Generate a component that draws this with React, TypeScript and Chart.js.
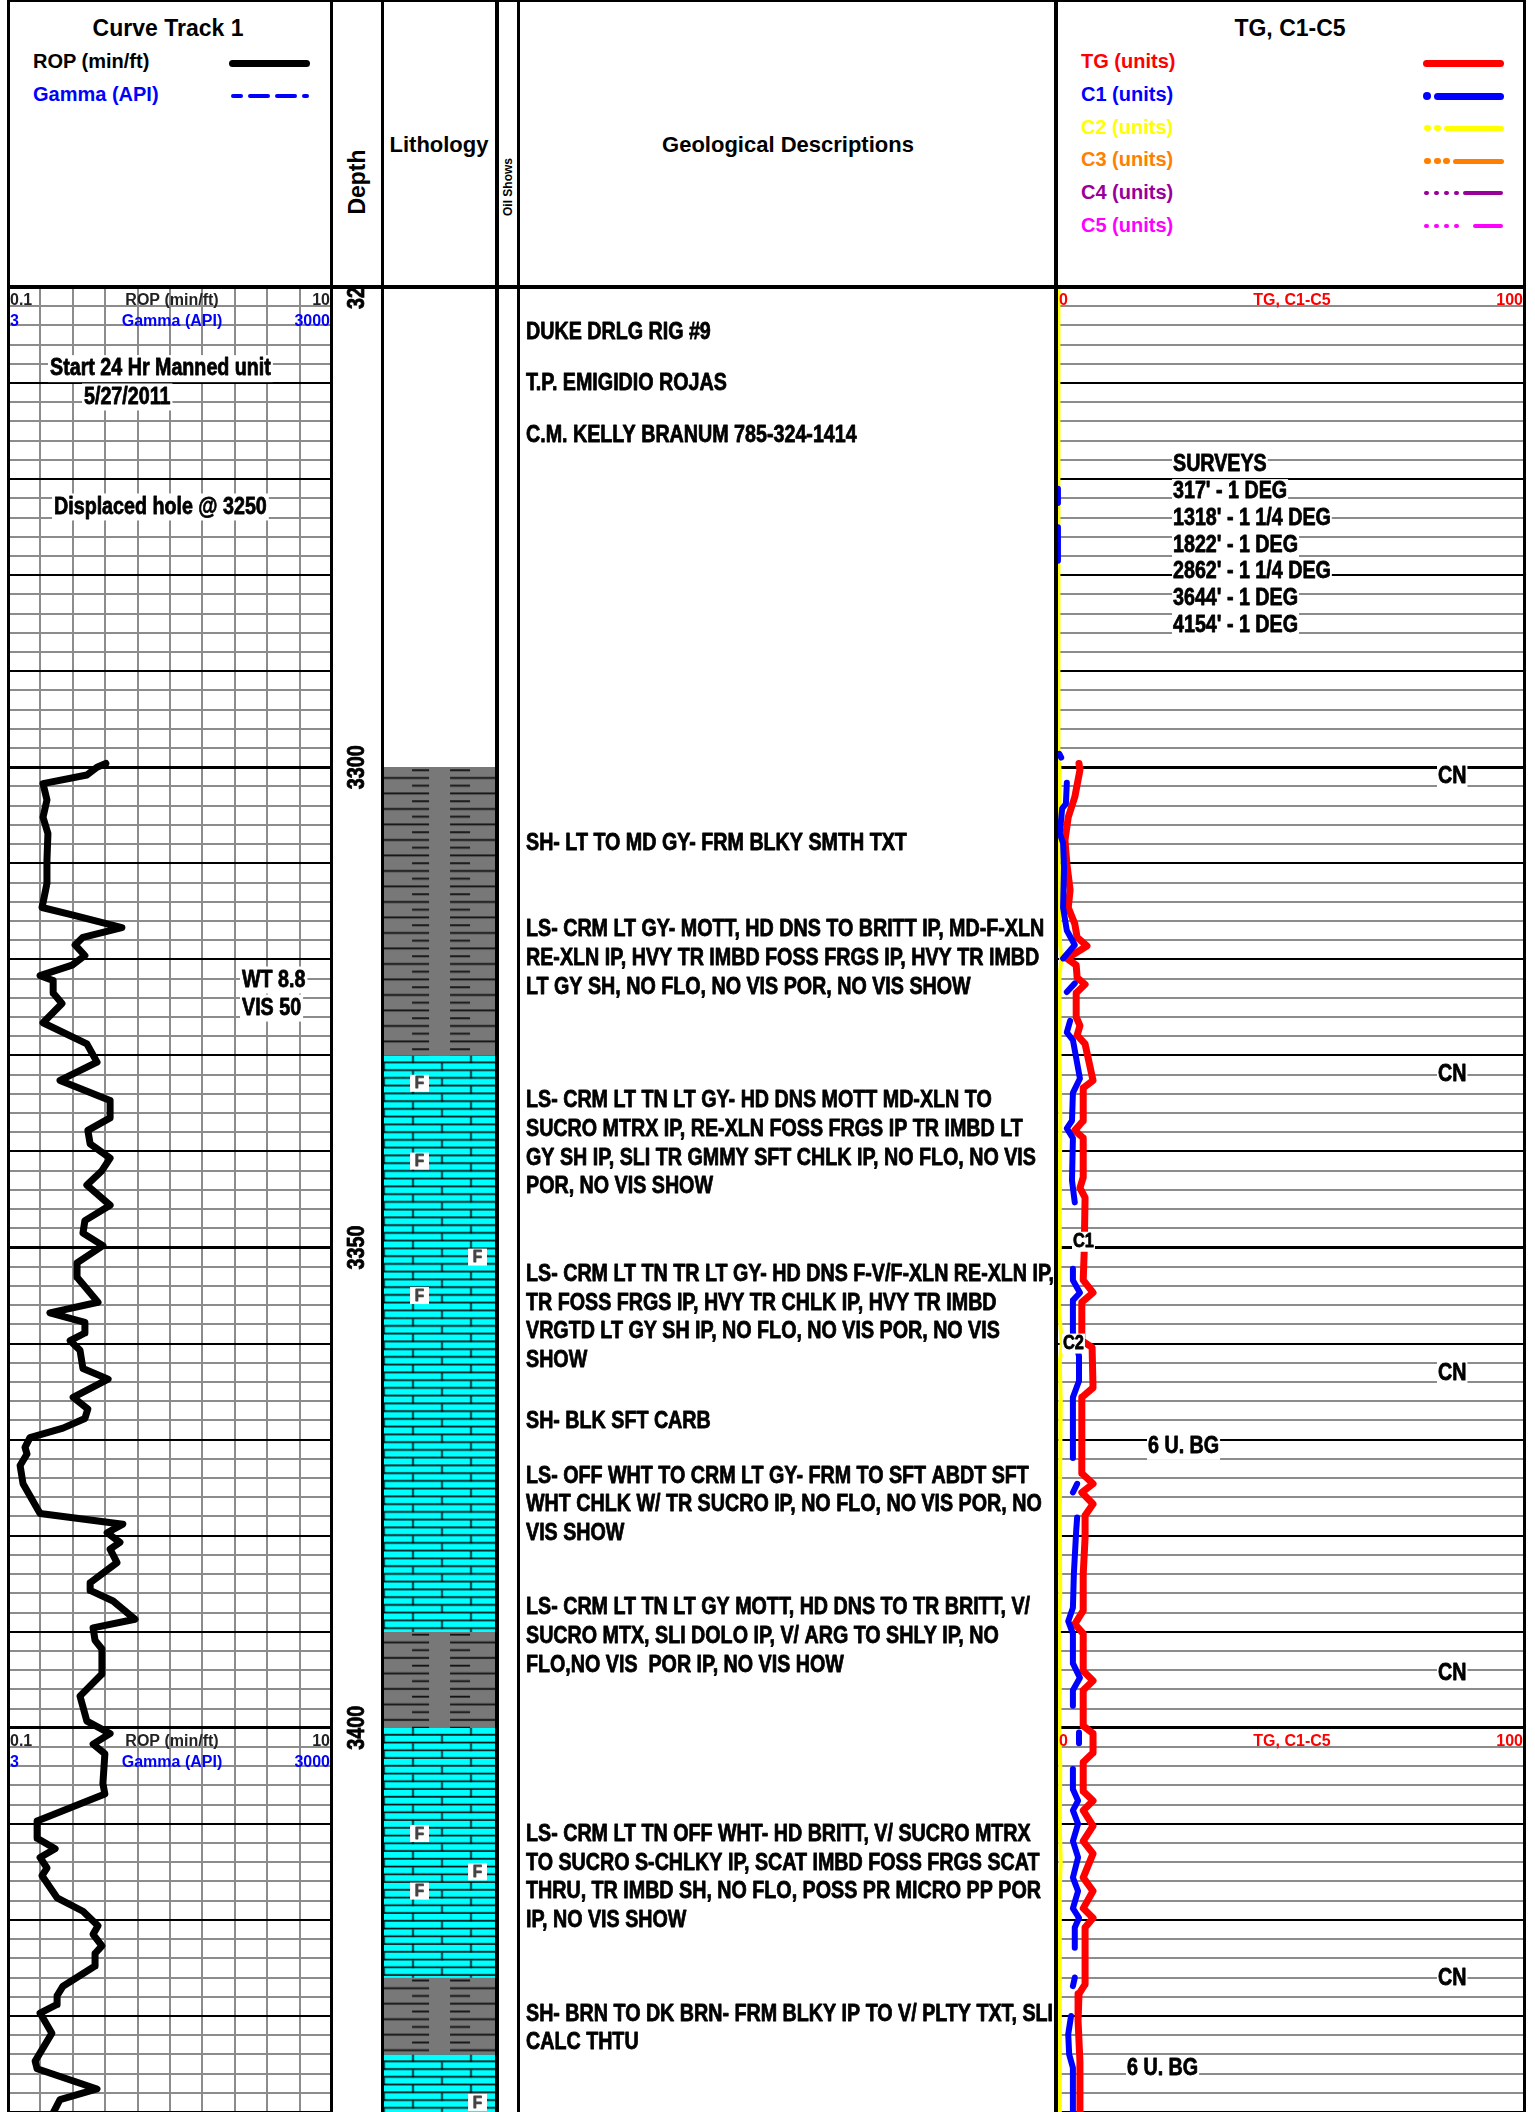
import React, { useEffect, useRef } from "react";
import { Chart, registerables } from "chart.js";

Chart.register(...registerables);

// ------------------------------------------------------------------ data
const TOP_DEPTH = 3250;
const BASE_DEPTH = 3440;
const depthLabels = [3250, 3300, 3350, 3400];
const scaleHeaderDepths = [3250, 3400];
const ropGridTicks = [0.1, 1.09, 2.08, 3.07, 4.06, 5.05, 6.04, 7.03, 8.02, 9.01, 10];

const ropDepths = [
  3299.6, 3300.0, 3300.8, 3301.7, 3303.4, 3305.2, 3306.9, 3309.7, 3312.1, 3314.6,
  3315.4, 3316.7, 3317.7, 3318.5, 3319.6, 3320.6, 3321.7, 3322.2, 3323.5, 3324.6,
  3326.6, 3328.8, 3330.7, 3332.6, 3334.7, 3336.5, 3337.8, 3339.2, 3340.7, 3342.0,
  3343.5, 3345.6, 3347.2, 3348.5, 3349.8, 3351.6, 3353.1, 3355.7, 3356.8, 3357.8,
  3358.9, 3359.7, 3360.7, 3362.6, 3363.7, 3365.6, 3366.8, 3367.8, 3368.8, 3369.8,
  3370.8, 3371.5, 3372.7, 3374.6, 3377.7, 3378.8, 3379.7, 3380.7, 3381.4, 3382.8,
  3384.9, 3385.7, 3386.8, 3388.7, 3389.6, 3390.9, 3391.8, 3394.4, 3396.7, 3399.3,
  3400.6, 3401.7, 3402.7, 3405.8, 3406.9, 3409.7, 3411.5, 3412.6, 3413.5, 3414.6,
  3415.4, 3417.7, 3419.1, 3420.6, 3421.5, 3422.7, 3423.5, 3424.8, 3426.9, 3427.9,
  3428.8, 3429.7, 3431.8, 3434.7, 3435.5, 3437.6, 3438.7, 3440.1,
];
const ropValues = [
  3.09, 2.82, 2.51, 1.17, 1.29, 1.17, 1.32, 1.29, 1.29, 1.14,
  2.09, 3.58, 2.39, 2.15, 2.45, 2.06, 1.08, 1.48, 1.48, 1.75,
  1.17, 2.51, 2.82, 1.69, 3.22, 3.22, 2.54, 2.61, 3.22, 2.97,
  2.51, 3.22, 2.45, 2.39, 3.0, 2.21, 2.21, 2.85, 1.38, 2.45,
  2.45, 2.0, 2.3, 2.39, 3.16, 2.09, 2.54, 2.45, 1.78, 0.77,
  0.62, 0.68, 0.47, 0.56, 1.08, 3.61, 3.13, 3.52, 3.22, 3.43,
  2.61, 2.61, 3.31, 3.98, 2.7, 2.76, 2.97, 2.97, 2.3, 2.51,
  3.22, 2.7, 3.06, 3.0, 3.06, 0.99, 0.99, 1.54, 1.08, 1.29,
  1.14, 1.6, 2.39, 2.85, 2.7, 2.97, 2.76, 2.76, 1.78, 1.6,
  1.6, 1.08, 1.44, 0.93, 0.99, 2.82, 1.69, 1.48,
];

const tgDepths = [
  3299.6, 3300.3, 3303.1, 3305.2, 3307.6, 3310.0, 3312.8, 3314.6, 3316.3, 3317.7,
  3318.6, 3319.9, 3320.6, 3321.9, 3322.6, 3323.5, 3326.0, 3326.9, 3327.9, 3328.8,
  3332.6, 3333.4, 3336.8, 3337.8, 3338.6, 3342.7, 3343.8, 3344.8, 3350.6, 3353.4,
  3354.7, 3355.7, 3359.7, 3360.4, 3364.6, 3365.6, 3373.5, 3374.6, 3375.5, 3376.7,
  3377.9, 3380.2, 3384.0, 3387.8, 3389.2, 3390.2, 3394.1, 3395.1, 3396.1, 3399.8,
  3400.6, 3402.6, 3403.6, 3406.6, 3407.6, 3408.6, 3410.2, 3411.8, 3413.1, 3415.6,
  3417.0, 3418.8, 3419.8, 3420.8, 3426.7, 3427.7, 3430.5, 3434.7, 3440.1,
];
const tgValues = [
  4.7, 4.9, 3.8, 2.4, 1.7, 2.1, 2.8, 2.4, 3.8, 4.3,
  6.4, 2.1, 4.1, 4.3, 6.0, 4.1, 4.1, 4.9, 4.3, 6.0,
  7.7, 5.6, 5.6, 3.8, 5.6, 5.6, 4.9, 6.0, 5.8, 5.6,
  7.7, 5.3, 5.3, 7.5, 7.7, 5.3, 5.3, 7.7, 5.3, 7.7,
  6.0, 6.0, 5.6, 5.6, 3.8, 5.6, 5.6, 7.7, 5.6, 5.6,
  7.7, 7.7, 5.6, 5.6, 7.7, 5.6, 7.7, 5.6, 7.7, 5.6,
  7.7, 5.6, 7.7, 6.0, 6.0, 4.7, 4.5, 4.9, 4.9,
];

const c1Depths = [
  3271.0, 3272.5, 3273.0, 3275.0, 3278.5, 3279.0, 3298.6, 3299.0, 3299.5,
  3301.6, 3303.8, 3304.3, 3306.9, 3307.9, 3310.4, 3314.6, 3317.0, 3318.5, 3319.9, 3321.0,
  3322.5, 3323.4, 3324.5,
  3326.4, 3327.6, 3328.4, 3332.4, 3333.9, 3336.8, 3337.6, 3338.6, 3343.0, 3345.3, 3346.5,
  3352.2, 3353.4, 3354.7, 3355.5, 3358.9, 3361.3, 3363.9, 3365.6, 3371.9, 3373.0,
  3374.6, 3375.5, 3376.5,
  3378.1, 3379.5, 3384.0, 3387.5, 3388.9, 3390.2, 3393.3, 3394.8, 3396.1, 3397.7, 3399.0,
  3400.5, 3401.6, 3402.5,
  3404.3, 3406.4, 3407.6, 3408.6, 3410.0, 3411.8, 3413.5, 3415.6, 3417.0, 3418.8, 3419.8, 3420.8, 3422.9, 3424.5,
  3426.0, 3426.9, 3428.5,
  3430.0, 3431.9, 3434.0, 3435.4, 3440.1,
];
const c1Values = [
  0.2, 0.2, null, 0.2, 0.2, null, 0.5, 0.9, null,
  2.1, 1.9, 1.1, 0.6, 1.3, 1.5, 1.3, 2.1, 3.8, 1.3, null,
  3.8, 2.1, null,
  2.8, 2.1, 3.4, 4.9, 3.4, 3.2, 2.1, 3.4, 3.2, 3.8, null,
  3.4, 3.4, 4.9, 3.4, 3.4, 4.7, 4.7, 3.4, 3.4, null,
  4.3, 3.4, null,
  4.3, 4.1, 3.6, 3.4, 2.4, 3.4, 3.4, 4.9, 3.4, 3.4, null,
  4.7, 4.7, null,
  3.4, 3.4, 4.5, 3.4, 4.5, 3.4, 4.5, 3.4, 4.5, 3.4, 4.7, 3.8, 3.8, null,
  3.8, 3.4, null,
  3.0, 2.4, 2.6, 3.4, 3.4,
];

const c2Depths = [
  3250, 3299, 3300.5, 3304, 3306, 3312, 3318, 3320, 3322, 3324, 3330, 3336, 3345, 3350,
  3356, 3358, 3360, 3362, 3366, 3372, 3378, 3386, 3390, 3396, 3400, 3404, 3410, 3414,
  3418, 3426, 3434, 3440,
];
const c2Values = [
  0.3, 0.3, 0.6, 0.5, 0.3, 0.4, 0.6, 0.9, 0.5, 0.6, 0.5, 0.7, 0.6, 0.6,
  0.4, 0.7, 1.0, 0.6, 0.8, 0.7, 0.6, 0.7, 0.4, 0.6, 0.5, 0.7, 0.6, 0.8,
  0.5, 0.6, 0.6, 0.6,
];

const lithTops = [3300, 3330, 3390, 3400, 3426, 3434];
const lithBases = [3330, 3390, 3400, 3426, 3434, 3440];
const lithTypes = ["SH", "LS", "SH", "LS", "SH", "LS"];
const fossilDepths = [3332.9, 3341.0, 3351.0, 3355.0, 3411.0, 3415.0, 3417.0, 3439.0];
const fossilSlots = [0, 0, 1, 0, 0, 1, 0, 1];

const descDepths = [3254.7, 3260.0, 3265.4, 3307.9, 3316.9, 3334.7, 3352.8, 3368.1, 3373.8, 3387.5, 3411.1, 3429.8];
const descTexts = [
  "DUKE DRLG RIG #9",
  "T.P. EMIGIDIO ROJAS",
  "C.M. KELLY BRANUM 785-324-1414",
  "SH- LT TO MD GY- FRM BLKY SMTH TXT",
  "LS- CRM LT GY- MOTT, HD DNS TO BRITT IP, MD-F-XLN\nRE-XLN IP, HVY TR IMBD FOSS FRGS IP, HVY TR IMBD\nLT GY SH, NO FLO, NO VIS POR, NO VIS SHOW",
  "LS- CRM LT TN LT GY- HD DNS MOTT MD-XLN TO\nSUCRO MTRX IP, RE-XLN FOSS FRGS IP TR IMBD LT\nGY SH IP, SLI TR GMMY SFT CHLK IP, NO FLO, NO VIS\nPOR, NO VIS SHOW",
  "LS- CRM LT TN TR LT GY- HD DNS F-V/F-XLN RE-XLN IP,\nTR FOSS FRGS IP, HVY TR CHLK IP, HVY TR IMBD\nVRGTD LT GY SH IP, NO FLO, NO VIS POR, NO VIS\nSHOW",
  "SH- BLK SFT CARB",
  "LS- OFF WHT TO CRM LT GY- FRM TO SFT ABDT SFT\nWHT CHLK W/ TR SUCRO IP, NO FLO, NO VIS POR, NO\nVIS SHOW",
  "LS- CRM LT TN LT GY MOTT, HD DNS TO TR BRITT, V/\nSUCRO MTX, SLI DOLO IP, V/ ARG TO SHLY IP, NO\nFLO,NO VIS  POR IP, NO VIS HOW",
  "LS- CRM LT TN OFF WHT- HD BRITT, V/ SUCRO MTRX\nTO SUCRO S-CHLKY IP, SCAT IMBD FOSS FRGS SCAT\nTHRU, TR IMBD SH, NO FLO, POSS PR MICRO PP POR\nIP, NO VIS SHOW",
  "SH- BRN TO DK BRN- FRM BLKY IP TO V/ PLTY TXT, SLI\nCALC THTU",
];

const ropNoteTexts = ["Start 24 Hr Manned unit", "5/27/2011", "Displaced hole @ 3250", "WT 8.8", "VIS 50"];
const ropNoteDepths = [3258.5, 3261.45, 3272.9, 3322.15, 3325.07];
const gasNoteTexts = [
  "SURVEYS", "317' - 1 DEG", "1318' - 1 1/4 DEG", "1822' - 1 DEG", "2862' - 1 1/4 DEG",
  "3644' - 1 DEG", "4154' - 1 DEG",
];
const gasNoteDepths = [3268.45, 3271.3, 3274.05, 3276.85, 3279.65, 3282.4, 3285.2];
const cnDepths = [3301.0, 3332.0, 3363.1, 3394.3, 3426.1];
const bgNoteDepths = [3370.7, 3435.5];
const compLabelTexts = ["C1", "C2"];
const compLabelDepths = [3349.4, 3360.0];

// ------------------------------------------------------------------ styling helpers
const FONT = '"Liberation Sans", Arial, Helvetica, sans-serif';
const NARROW = 0.82;

type TextOpts = {
  size?: number;
  sx?: number;
  align?: "left" | "center" | "right";
  color?: string;
  bg?: string;
  boxH?: number;
  pad?: number;
};

function drawText(ctx: CanvasRenderingContext2D, text: string, x: number, y: number, o: TextOpts = {}) {
  const size = o.size ?? 24;
  const sx = o.sx ?? NARROW;
  const align = o.align ?? "left";
  ctx.save();
  ctx.font = `bold ${size}px ${FONT}`;
  const w = ctx.measureText(text).width * sx;
  const left = align === "left" ? x : align === "center" ? x - w / 2 : x - w;
  if (o.bg) {
    const h = o.boxH ?? size + 2;
    const p = o.pad ?? 2;
    ctx.fillStyle = o.bg;
    ctx.fillRect(left - p, y - h / 2, w + 2 * p, h);
  }
  ctx.translate(left, y);
  ctx.scale(sx, 1);
  const color = o.color ?? "#000";
  ctx.fillStyle = color;
  ctx.textAlign = "left";
  ctx.textBaseline = "middle";
  ctx.fillText(text, 0, 0);
  if (sx < 1) {
    // narrow bold faces have heavier stems than a squeezed regular bold
    ctx.strokeStyle = color;
    ctx.lineWidth = 0.8;
    ctx.lineJoin = "round";
    ctx.strokeText(text, 0, 0);
  }
  ctx.restore();
}

const gridColor = (c: any) => {
  const v = c.tick ? c.tick.value : 0;
  return Math.round(v) % 10 === 0 ? "#000000" : "#8c8c8c";
};
const gridWidth = (c: any) => {
  const v = c.tick ? c.tick.value : 0;
  return Math.round(v) % 50 === 0 ? 3 : 2;
};

function depthScale(showGrid: boolean): any {
  return {
    type: "linear",
    min: TOP_DEPTH,
    max: BASE_DEPTH,
    reverse: true,
    display: showGrid,
    ticks: { display: false, stepSize: 2 },
    grid: { display: showGrid, drawTicks: false, color: gridColor, lineWidth: gridWidth },
    border: { display: false },
  };
}

function baseOptions(extra: any): any {
  return {
    animation: false,
    responsive: false,
    events: [],
    layout: { padding: 0 },
    plugins: { legend: { display: false }, tooltip: { enabled: false }, title: { display: false } },
    ...extra,
  };
}

function curve(depths: number[], values: (number | null)[], color: string, width: number) {
  return {
    data: depths.map((d, i) => ({ x: values[i], y: d })),
    borderColor: color,
    backgroundColor: color,
    borderWidth: width,
    pointRadius: 0,
    tension: 0,
    spanGaps: false,
    borderCapStyle: "round",
    borderJoinStyle: "round",
    fill: false,
  };
}

function makeLimestoneTile(): HTMLCanvasElement {
  const c = document.createElement("canvas");
  c.width = 58;
  c.height = 31;
  const g = c.getContext("2d")!;
  g.fillStyle = "#00ffff";
  g.fillRect(0, 0, 58, 31);
  g.fillStyle = "#000";
  const rh = 31 / 4;
  for (let r = 0; r < 4; r++) {
    const y0 = r * rh;
    g.fillRect(0, y0 + rh - 1.6, 58, 1.6);
    const jx = r % 2 === 0 ? 14.5 : 43.5;
    g.fillRect(jx - 0.75, y0, 1.5, rh);
  }
  return c;
}

function makeShaleTile(): HTMLCanvasElement {
  const c = document.createElement("canvas");
  c.width = 111;
  c.height = 31;
  const g = c.getContext("2d")!;
  g.fillStyle = "#787878";
  g.fillRect(0, 0, 111, 31);
  g.fillStyle = "#111";
  const rh = 31 / 4;
  for (let r = 0; r < 4; r++) {
    const y = r * rh + 2;
    if (r % 2 === 0) {
      g.fillRect(28, y, 17, 1.8);
      g.fillRect(66, y, 20, 1.8);
    } else {
      g.fillRect(0, y, 45, 1.8);
      g.fillRect(66, y, 45, 1.8);
    }
  }
  return c;
}

// ------------------------------------------------------------------ plugins
const ropOverlay = {
  id: "ropOverlay",
  afterDatasetsDraw(chart: any) {
    const { ctx } = chart;
    const y = chart.scales.y;
    scaleHeaderDepths.forEach((d) => {
      const py = y.getPixelForValue(d);
      drawText(ctx, "0.1", 2, py + 14, { size: 16, sx: 1, color: "#222" });
      drawText(ctx, "ROP (min/ft)", 164, py + 14, { size: 16, sx: 1, color: "#222", align: "center" });
      drawText(ctx, "10", 322, py + 14, { size: 16, sx: 1, color: "#222", align: "right" });
      drawText(ctx, "3", 2, py + 35, { size: 16, sx: 1, color: "#0000ff" });
      drawText(ctx, "Gamma (API)", 164, py + 35, { size: 16, sx: 1, color: "#0000ff", align: "center" });
      drawText(ctx, "3000", 322, py + 35, { size: 16, sx: 1, color: "#0000ff", align: "right" });
    });
    const noteX = [42, 76, 46, 234, 234];
    ropNoteTexts.forEach((t, i) => {
      drawText(ctx, t, noteX[i], y.getPixelForValue(ropNoteDepths[i]), { bg: "#fff", boxH: 27 });
    });
  },
};

const gasOverlay = {
  id: "gasOverlay",
  afterDatasetsDraw(chart: any) {
    const { ctx } = chart;
    const y = chart.scales.y;
    scaleHeaderDepths.forEach((d) => {
      const py = y.getPixelForValue(d);
      drawText(ctx, "0", 2, py + 14, { size: 16, sx: 1, color: "#ff0000" });
      drawText(ctx, "TG, C1-C5", 235, py + 14, { size: 16, sx: 1, color: "#ff0000", align: "center" });
      drawText(ctx, "100", 466, py + 14, { size: 16, sx: 1, color: "#ff0000", align: "right" });
    });
    gasNoteTexts.forEach((t, i) => {
      drawText(ctx, t, 116, y.getPixelForValue(gasNoteDepths[i]), { bg: "#fff", boxH: 25, pad: 1 });
    });
    cnDepths.forEach((d) => drawText(ctx, "CN", 381, y.getPixelForValue(d), { bg: "#fff", boxH: 27, pad: 1 }));
    const bgX = [91, 70];
    bgNoteDepths.forEach((d, i) => drawText(ctx, "6 U. BG", bgX[i], y.getPixelForValue(d), { bg: "#fff", boxH: 27, pad: 1 }));
    const compX = [16, 6];
    compLabelTexts.forEach((t, i) =>
      drawText(ctx, t, compX[i], y.getPixelForValue(compLabelDepths[i]), { size: 20, bg: "#fff", boxH: 20, pad: 1 })
    );
  },
};

const depthOverlay = {
  id: "depthOverlay",
  afterDraw(chart: any) {
    const { ctx } = chart;
    const y = chart.scales.y;
    const cx = chart.width / 2 + 0.5;
    depthLabels.forEach((d) => {
      ctx.save();
      ctx.translate(cx, y.getPixelForValue(d));
      ctx.rotate(-Math.PI / 2);
      ctx.scale(NARROW, 1);
      ctx.font = `bold 24px ${FONT}`;
      ctx.fillStyle = "#000";
      ctx.strokeStyle = "#000";
      ctx.lineWidth = 0.8;
      ctx.textAlign = "center";
      ctx.textBaseline = "middle";
      ctx.fillText(String(d), 0, 0);
      ctx.strokeText(String(d), 0, 0);
      ctx.restore();
    });
  },
};

const descOverlay = {
  id: "descOverlay",
  afterDraw(chart: any) {
    const { ctx } = chart;
    const y = chart.scales.y;
    descTexts.forEach((t, i) => {
      const y0 = y.getPixelForValue(descDepths[i]);
      t.split("\n").forEach((line, k) => drawText(ctx, line, 6, y0 + k * 28.7, { size: 24 }));
    });
  },
};

const lithPatternAlign = {
  id: "lithPatternAlign",
  beforeDatasetsDraw(chart: any) {
    const y = chart.scales.y;
    chart.data.datasets.forEach((ds: any, i: number) => {
      const pat = ds.backgroundColor as CanvasPattern;
      const top = y.getPixelForValue(lithTops[i]);
      const xOff = lithTypes[i] === "LS" ? 14.5 : 0;
      if (pat && (pat as any).setTransform) pat.setTransform(new DOMMatrix([1, 0, 0, 1, xOff, top]));
    });
  },
  afterDatasetsDraw(chart: any) {
    const { ctx } = chart;
    const y = chart.scales.y;
    const slotX = [26, 84];
    fossilDepths.forEach((d, i) => {
      const py = y.getPixelForValue(d);
      const x = slotX[fossilSlots[i]];
      ctx.fillStyle = "#ffffff";
      ctx.fillRect(x, py - 8.5, 19, 17);
      drawText(ctx, "F", x + 9.5, py + 0.5, { size: 17, sx: 0.9, color: "#444", align: "center" });
    });
  },
};

// ------------------------------------------------------------------ header pieces
const abs = (s: React.CSSProperties): React.CSSProperties => ({ position: "absolute", ...s });

function CText(props: { cx: number; cy: number; size: number; color?: string; rotate?: boolean; children: React.ReactNode }) {
  return (
    <div
      style={abs({
        left: props.cx,
        top: props.cy,
        transform: `translate(-50%, -50%)${props.rotate ? " rotate(-90deg)" : ""}`,
        font: `bold ${props.size}px ${FONT}`,
        lineHeight: 1,
        whiteSpace: "nowrap",
        color: props.color ?? "#000",
      })}
    >
      {props.children}
    </div>
  );
}

function LText(props: { x: number; cy: number; size: number; color: string; children: React.ReactNode }) {
  return (
    <div
      style={abs({
        left: props.x,
        top: props.cy,
        transform: "translateY(-50%)",
        font: `bold ${props.size}px ${FONT}`,
        lineHeight: 1,
        whiteSpace: "nowrap",
        color: props.color,
      })}
    >
      {props.children}
    </div>
  );
}

function Seg(props: { x1: number; x2: number; cy: number; h: number; color: string }) {
  return (
    <div
      style={abs({
        left: props.x1,
        top: props.cy - props.h / 2,
        width: props.x2 - props.x1,
        height: props.h,
        background: props.color,
        borderRadius: props.h / 2,
      })}
    />
  );
}

const legendNames = ["TG (units)", "C1 (units)", "C2 (units)", "C3 (units)", "C4 (units)", "C5 (units)"];
const legendColors = ["#ff0000", "#0000ff", "#ffff00", "#ff8000", "#990099", "#ff00ff"];

export default function App() {
  const ropRef = useRef<HTMLCanvasElement>(null);
  const depthRef = useRef<HTMLCanvasElement>(null);
  const lithRef = useRef<HTMLCanvasElement>(null);
  const descRef = useRef<HTMLCanvasElement>(null);
  const gasRef = useRef<HTMLCanvasElement>(null);

  useEffect(() => {
    const charts: Chart[] = [];

    charts.push(
      new Chart(ropRef.current!, {
        type: "line",
        data: { datasets: [curve(ropDepths, ropValues, "#000000", 7) as any] },
        options: baseOptions({
          indexAxis: "y",
          scales: {
            x: {
              type: "linear",
              min: 0.1,
              max: 10,
              ticks: { display: false },
              grid: { drawTicks: false, color: "#8c8c8c", lineWidth: 2 },
              border: { display: false },
              afterBuildTicks: (s: any) => {
                s.ticks = ropGridTicks.map((v) => ({ value: v }));
              },
            },
            y: depthScale(true),
          },
        }),
        plugins: [ropOverlay],
      } as any)
    );

    charts.push(
      new Chart(depthRef.current!, {
        type: "scatter",
        data: { datasets: [] },
        options: baseOptions({
          scales: { x: { type: "linear", min: 0, max: 1, display: false }, y: depthScale(false) },
        }),
        plugins: [depthOverlay],
      } as any)
    );

    const lsTile = makeLimestoneTile();
    const shTile = makeShaleTile();
    const lctx = lithRef.current!.getContext("2d")!;
    charts.push(
      new Chart(lithRef.current!, {
        type: "bar",
        data: {
          labels: ["Lithology"],
          datasets: lithTops.map((top, i) => ({
            data: [[top, lithBases[i]]],
            backgroundColor: lctx.createPattern(lithTypes[i] === "LS" ? lsTile : shTile, "repeat"),
            borderWidth: 0,
            barPercentage: 1,
            categoryPercentage: 1,
            grouped: false,
          })),
        },
        options: baseOptions({
          scales: { x: { display: false }, y: depthScale(false) },
        }),
        plugins: [lithPatternAlign],
      } as any)
    );

    charts.push(
      new Chart(descRef.current!, {
        type: "scatter",
        data: { datasets: [] },
        options: baseOptions({
          scales: { x: { type: "linear", min: 0, max: 1, display: false }, y: depthScale(false) },
        }),
        plugins: [descOverlay],
      } as any)
    );

    charts.push(
      new Chart(gasRef.current!, {
        type: "line",
        data: {
          datasets: [
            curve(c1Depths, c1Values, "#0000ff", 6) as any,
            curve(tgDepths, tgValues, "#ff0000", 7) as any,
            curve(c2Depths, c2Values, "#ffff00", 4) as any,
          ],
        },
        options: baseOptions({
          indexAxis: "y",
          scales: {
            x: { type: "linear", min: 0, max: 100, display: false },
            y: depthScale(true),
          },
        }),
        plugins: [gasOverlay],
      } as any)
    );

    return () => charts.forEach((c) => c.destroy());
  }, []);

  const vLines = [
    { x: 7, w: 3 },
    { x: 330, w: 3 },
    { x: 381, w: 3 },
    { x: 495, w: 4 },
    { x: 517, w: 3 },
    { x: 1054, w: 4 },
    { x: 1523, w: 3 },
  ];

  return (
    <div style={abs({ left: 0, top: 0, width: 1535, height: 2112, background: "#fff", overflow: "hidden" })}>
      <canvas ref={ropRef} width={324} height={1825} style={abs({ left: 8, top: 287 })} />
      <canvas ref={depthRef} width={48} height={1825} style={abs({ left: 333, top: 287 })} />
      <canvas ref={lithRef} width={111} height={1825} style={abs({ left: 384, top: 287 })} />
      <canvas ref={descRef} width={534} height={1825} style={abs({ left: 520, top: 287 })} />
      <canvas ref={gasRef} width={468} height={1825} style={abs({ left: 1057, top: 287 })} />

      {vLines.map((l, i) => (
        <div key={i} style={abs({ left: l.x, top: 0, width: l.w, height: 2112, background: "#000" })} />
      ))}
      <div style={abs({ left: 7, top: 0, width: 1519, height: 2, background: "#000" })} />
      <div style={abs({ left: 7, top: 285, width: 1519, height: 4, background: "#000" })} />

      {/* header: curve track 1 */}
      <CText cx={168} cy={28} size={23}>Curve Track 1</CText>
      <LText x={33} cy={61} size={20} color="#000">ROP (min/ft)</LText>
      <LText x={33} cy={94} size={20} color="#0000ff">Gamma (API)</LText>
      <Seg x1={229} x2={310} cy={63} h={7} color="#000" />
      <Seg x1={231} x2={243} cy={96} h={4} color="#0000ff" />
      <Seg x1={248} x2={270} cy={96} h={4} color="#0000ff" />
      <Seg x1={275} x2={297} cy={96} h={4} color="#0000ff" />
      <Seg x1={302} x2={309} cy={96} h={4} color="#0000ff" />

      <CText cx={357} cy={182} size={23} rotate>Depth</CText>
      <CText cx={439} cy={145} size={22}>Lithology</CText>
      <CText cx={508} cy={187} size={12} rotate>Oil Shows</CText>
      <CText cx={788} cy={145} size={22}>Geological Descriptions</CText>

      {/* header: gas track */}
      <CText cx={1290} cy={28} size={23}>TG, C1-C5</CText>
      {legendNames.map((n, i) => (
        <LText key={n} x={1081} cy={61 + i * 32.8} size={20} color={legendColors[i]}>
          {n}
        </LText>
      ))}
      <Seg x1={1423} x2={1504} cy={63} h={7} color="#ff0000" />
      <Seg x1={1423} x2={1431} cy={96} h={8} color="#0000ff" />
      <Seg x1={1434} x2={1504} cy={96} h={7} color="#0000ff" />
      <Seg x1={1424} x2={1431} cy={128} h={6} color="#ffff00" />
      <Seg x1={1434} x2={1441} cy={128} h={6} color="#ffff00" />
      <Seg x1={1444} x2={1504} cy={128} h={5} color="#ffff00" />
      <Seg x1={1424} x2={1431} cy={161} h={6} color="#ff8000" />
      <Seg x1={1434} x2={1441} cy={161} h={6} color="#ff8000" />
      <Seg x1={1443} x2={1450} cy={161} h={6} color="#ff8000" />
      <Seg x1={1453} x2={1504} cy={161} h={5} color="#ff8000" />
      {[1424, 1434, 1444, 1454].map((x) => (
        <Seg key={"c4" + x} x1={x} x2={x + 5} cy={193} h={4.5} color="#990099" />
      ))}
      <Seg x1={1463} x2={1503} cy={193} h={4} color="#990099" />
      {[1424, 1434, 1444, 1454].map((x) => (
        <Seg key={"c5" + x} x1={x} x2={x + 5} cy={226} h={4.5} color="#ff00ff" />
      ))}
      <Seg x1={1473} x2={1503} cy={226} h={4} color="#ff00ff" />
    </div>
  );
}
